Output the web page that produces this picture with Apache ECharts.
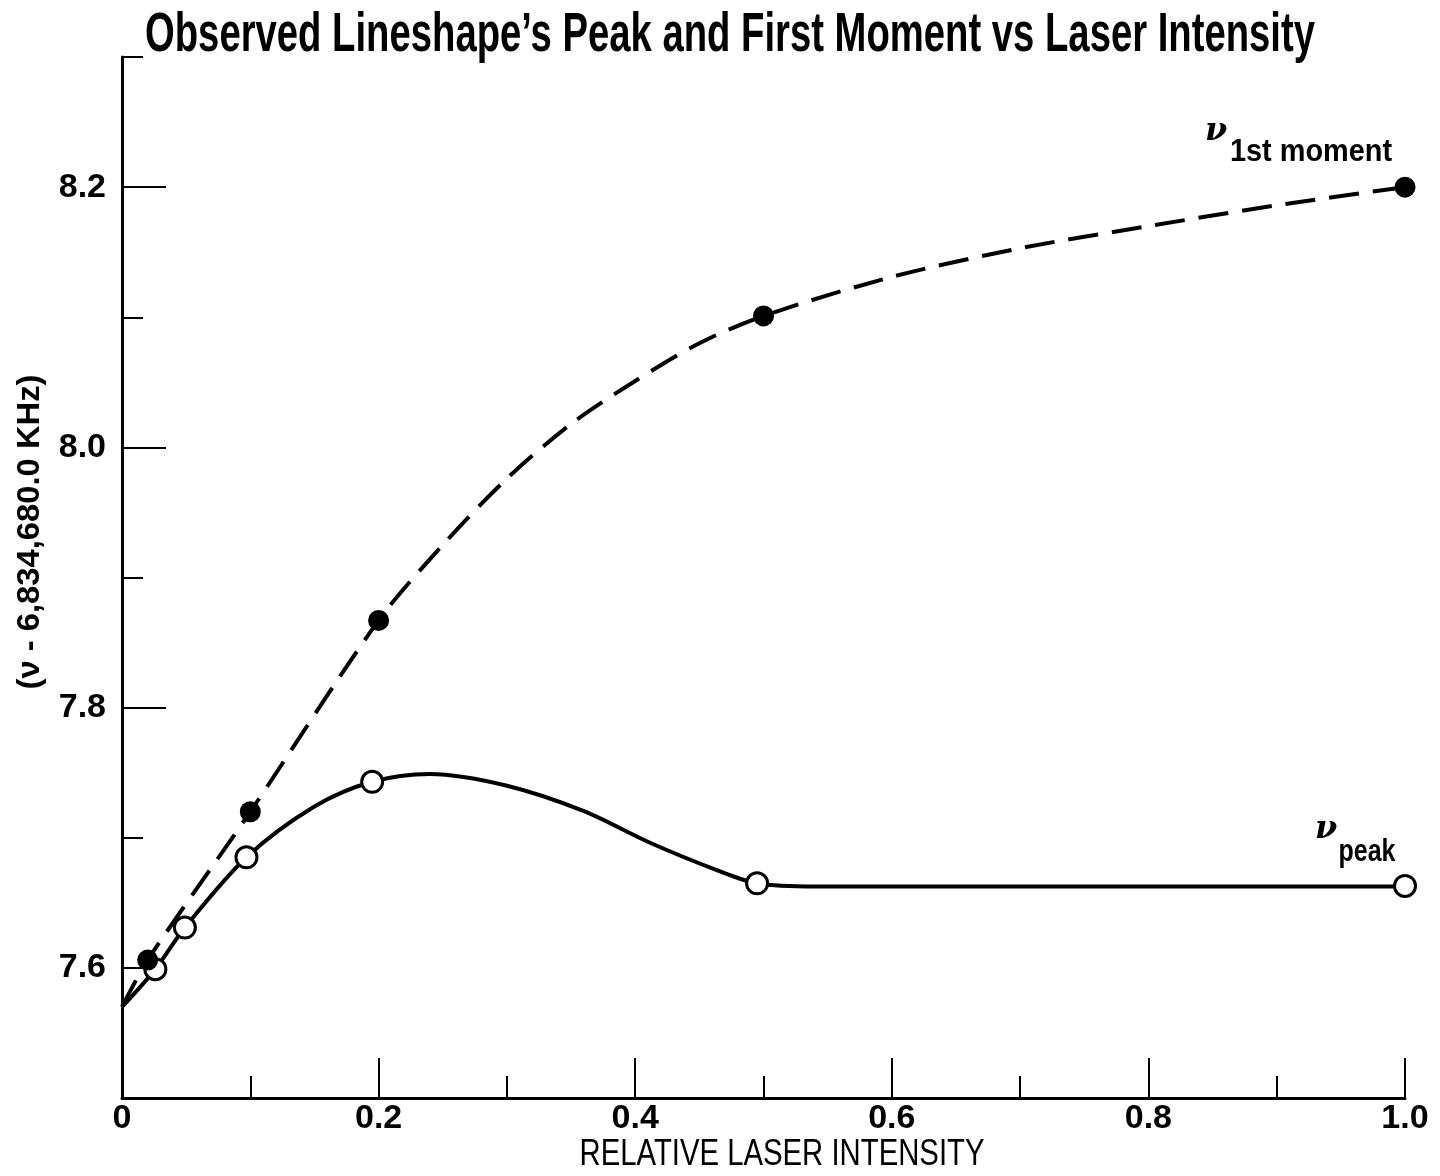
<!DOCTYPE html>
<html><head><meta charset="utf-8">
<script src="https://cdn.jsdelivr.net/npm/echarts@6/dist/echarts.min.js"></script>
<style>html,body{margin:0;padding:0;background:#fff}#c{width:1440px;height:1176px}</style>
</head><body><div id="c"></div>
<script>
// Measured markers
const momentX = [0.02, 0.10, 0.20, 0.50, 1.00];
const momentY = [7.606, 7.720, 7.867, 8.101, 8.200];
const peakX = [0.026, 0.049, 0.097, 0.195, 0.495, 1.00];
const peakY = [7.599, 7.631, 7.685, 7.743, 7.665, 7.663];
// Drawn curves
const momentCurveX = [0, 0.02, 0.10, 0.20, 0.25, 0.30, 0.35, 0.40, 0.45, 0.50, 0.60, 0.70, 0.80, 0.90, 1.00];
const momentCurveY = [7.570, 7.606, 7.720, 7.867, 7.925, 7.976, 8.018, 8.051, 8.080, 8.101, 8.131, 8.153, 8.170, 8.186, 8.200];
const peakCurveX = [0, 0.026, 0.049, 0.097, 0.15, 0.195, 0.24, 0.30, 0.36, 0.412, 0.464, 0.495, 0.54, 0.75, 1.00];
const peakCurveY = [7.570, 7.599, 7.631, 7.685, 7.724, 7.743, 7.749, 7.740, 7.7205, 7.696, 7.675, 7.665, 7.6625, 7.6625, 7.6625];
// Axis ticks
const xLabelTicks = [0, 0.2, 0.4, 0.6, 0.8, 1.0];
const xMinorTicks = [0.1, 0.3, 0.5, 0.7, 0.9];
const xMajorTicks = [0.2, 0.4, 0.6, 0.8, 1.0];
const yLabelTicks = [7.6, 7.8, 8.0, 8.2];
const yMinorTicks = [7.7, 7.9, 8.1, 8.3];

const zip = (xs, ys) => xs.map((x, i) => [x, ys[i]]);
const FONT = "'Liberation Sans', Arial, sans-serif";
const mctx = document.createElement('canvas').getContext('2d');
function fit(text, font, width) { mctx.font = font; return width / mctx.measureText(text).width; }

function txt(text, font, x, y, width, extra) {
  return Object.assign({type: 'text', x: x, y: y, scaleX: fit(text, font, width),
    style: {text: text, font: font, fill: '#000', align: 'center', verticalAlign: 'middle'}}, extra || {});
}

const chart = echarts.init(document.getElementById('c'), null, {renderer: 'canvas'});
const axisLine = {show: true, lineStyle: {color: '#000', width: 3}};
const tickStyle = {color: '#000', width: 2};
const labelStyle = {color: '#000', fontFamily: FONT, fontWeight: 'bold', fontSize: 34};
chart.setOption({
  animation: false,
  backgroundColor: '#fff',
  grid: {left: 122, right: 35, top: 57, bottom: 78, containLabel: false},
  xAxis: [
    {type: 'value', min: 0, max: 1, interval: 0.1, position: 'bottom',
     axisLine: axisLine,
     axisTick: {show: true, inside: true, length: 22, customValues: xMinorTicks, lineStyle: tickStyle},
     axisLabel: Object.assign({show: true, customValues: xLabelTicks, margin: 4,
       formatter: v => v === 0 ? '0' : v.toFixed(1)}, labelStyle),
     splitLine: {show: false}},
    {type: 'value', min: 0, max: 1, interval: 0.1, position: 'bottom', offset: 0,
     axisLine: {show: false},
     axisTick: {show: true, inside: true, length: 40, customValues: xMajorTicks, lineStyle: tickStyle},
     axisLabel: {show: false}, splitLine: {show: false}}
  ],
  yAxis: [
    {type: 'value', min: 7.5, max: 8.3, interval: 0.1, position: 'left',
     axisLine: axisLine,
     axisTick: {show: true, inside: true, length: 21, customValues: yMinorTicks, lineStyle: tickStyle},
     axisLabel: Object.assign({show: true, customValues: yLabelTicks, margin: 16,
       formatter: v => v.toFixed(1)}, labelStyle),
     splitLine: {show: false}},
    {type: 'value', min: 7.5, max: 8.3, interval: 0.1, position: 'left', offset: 0,
     axisLine: {show: false},
     axisTick: {show: true, inside: true, length: 44, customValues: yLabelTicks, lineStyle: tickStyle},
     axisLabel: {show: false}, splitLine: {show: false}}
  ],
  series: [
    {name: 'peak curve', type: 'line', data: zip(peakCurveX, peakCurveY), smooth: 0.3,
     showSymbol: false, lineStyle: {color: '#000', width: 4}, z: 2},
    {name: 'moment curve', type: 'line', data: zip(momentCurveX, momentCurveY), smooth: 0.3,
     showSymbol: false, lineStyle: {color: '#000', width: 4, type: [30, 14]}, z: 2},
    {name: 'ν peak', type: 'scatter', data: zip(peakX, peakY), symbol: 'circle', symbolSize: 21,
     itemStyle: {color: '#fff', borderColor: '#000', borderWidth: 3, opacity: 1}, z: 4},
    {name: 'ν 1st moment', type: 'scatter', data: zip(momentX, momentY), symbol: 'circle', symbolSize: 21,
     itemStyle: {color: '#000', opacity: 1}, z: 5}
  ],
  graphic: [
    txt("Observed Lineshape\u2019s Peak and First Moment vs Laser Intensity", "bold 55px " + FONT, 730, 36, 1170),
    txt('(\u03bd - 6,834,680.0 KHz)', "bold 31px " + FONT, 30, 532, 315, {rotation: Math.PI / 2}),
    txt('RELATIVE LASER INTENSITY', "37px " + FONT, 782, 1155, 405),
    {type: 'text', x: 1216, y: 132, style: {text: '\u03bd', font: "italic bold 32px 'DejaVu Serif', serif", fill: '#000', align: 'center', verticalAlign: 'middle'}},
    txt('1st moment', "bold 32px " + FONT, 1311, 152, 162),
    {type: 'text', x: 1326, y: 830, style: {text: '\u03bd', font: "italic bold 32px 'DejaVu Serif', serif", fill: '#000', align: 'center', verticalAlign: 'middle'}},
    txt('peak', "bold 32px " + FONT, 1367, 852, 57)
  ]
});
</script></body></html>
